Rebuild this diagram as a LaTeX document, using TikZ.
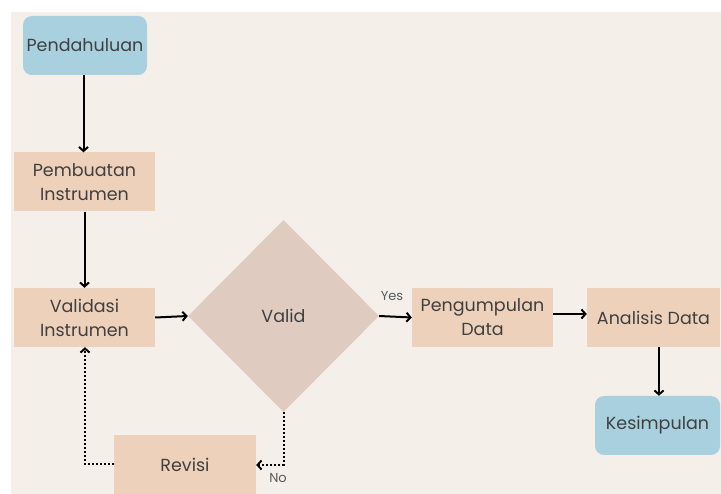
\documentclass[tikz,border=0pt]{standalone}
\usepackage{fontspec}
\setmainfont{Poppins}
\usetikzlibrary{shapes.geometric,arrows.meta}
\definecolor{bg}{HTML}{F4EFE9}
\definecolor{blueb}{HTML}{A8D0DE}
\definecolor{peach}{HTML}{EDD1BA}
\definecolor{rose}{HTML}{E0CBC1}
\definecolor{txt}{HTML}{404040}
\definecolor{lbl}{HTML}{5A5A5A}
\tikzset{
  base/.style={inner sep=0pt, align=center, text=txt, font=\fontsize{17.5}{24}\selectfont},
  term/.style={base, fill=blueb, rounded corners=9pt, minimum width=124pt, minimum height=59pt},
  proc/.style={base, fill=peach, minimum width=141pt, minimum height=59pt},
  decis/.style={base, diamond, fill=rose, minimum width=191pt, minimum height=192pt},
  arr/.style={line width=2pt, -{Straight Barb[length=4pt,width=9pt]}},
  darr/.style={line width=2pt, dotted, -{Straight Barb[length=4pt,width=9pt]}},
  lab/.style={text=lbl, font=\fontsize{13}{15}\selectfont, inner sep=0pt}
}
\begin{document}
\begin{tikzpicture}[x=1pt,y=-1pt]
\useasboundingbox (0,0) rectangle (721,494);
\fill[bg] (11,12) rectangle (721,494);
\node[term] (pend) at (85,45.5) {Pendahuluan};
\node[proc] (pemb) at (84.5,182) {Pembuatan\\Instrumen};
\node[proc] (vali) at (84.5,317.5) {Validasi\\Instrumen};
\node[decis] (valid) at (283.5,316) {Valid};
\node[proc] (peng) at (482.5,317.5) {Pengumpulan\\Data};
\node[proc, minimum width=133pt] (anal) at (653.5,317.5) {Analisis Data};
\node[term, minimum width=125pt] (kesi) at (657.5,425.5) {Kesimpulan};
\node[proc, minimum width=142pt] (revi) at (185,464.5) {Revisi};
\coordinate (c1) at (283.5,465);
\coordinate (c2) at (85,464.5);
\draw[arr] (pend.south -| 83.5,0) -- (pemb.north -| 83.5,0);
\draw[arr] (pemb.south) -- (vali.north);
\draw[arr] (vali.east) -- (valid.west);
\draw[arr] (valid.east) -- (peng.west);
\draw[arr] (peng.east |- 0,314) -- (anal.west |- 0,314);
\draw[arr] (anal.south -| 659,0) -- (kesi.north -| 659,0);
\draw[darr] (valid.south) -- (c1) -- (revi.east |- c1);
\draw[darr] (revi.west |- c2) -- (c2) -- (vali.south -| c2);
\node[lab] (yes) at (392,296) {Yes};
\node[lab] (no) at (278,478) {No};
\end{tikzpicture}
\end{document}
